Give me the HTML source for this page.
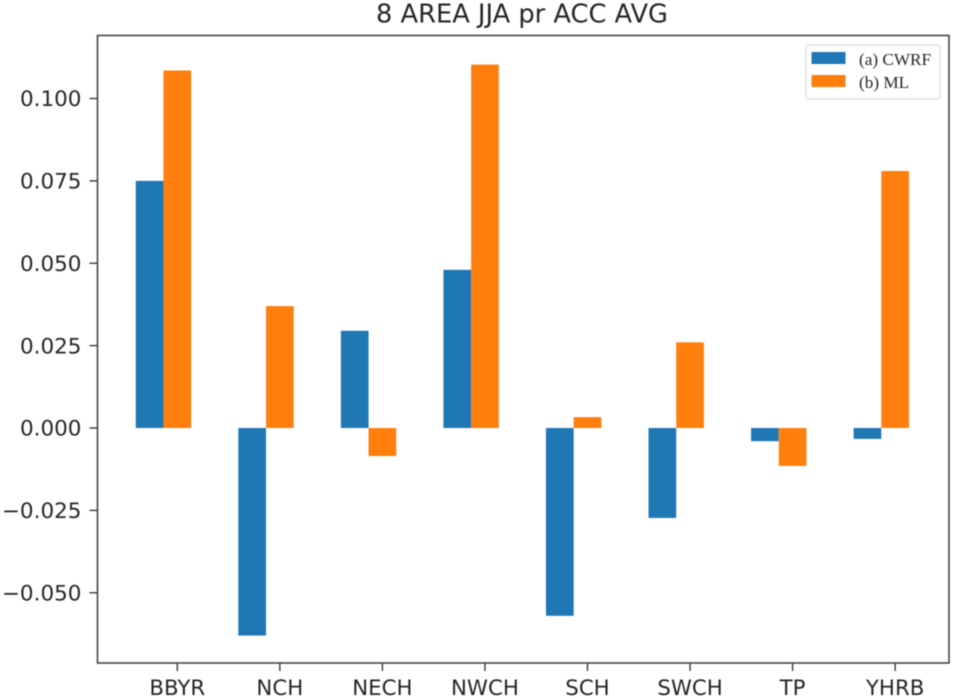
<!DOCTYPE html>
<html lang="en">
<head>
<meta charset="utf-8">
<title>8 AREA JJA pr ACC AVG</title>
<style>
html,body{margin:0;padding:0;background:#fff;width:955px;height:699px;overflow:hidden}
svg{display:block;filter:blur(0.55px)}
text{font-family:"DejaVu Sans","Liberation Sans",sans-serif;fill:#262626}
</style>
</head>
<body>
<svg id="chart" width="955" height="699" viewBox="0 0 955 699" xmlns="http://www.w3.org/2000/svg"></svg>
<script>
const categories = ['BBYR', 'NCH', 'NECH', 'NWCH', 'SCH', 'SWCH', 'TP', 'YHRB'];
const cwrfValues = [0.075, -0.063, 0.0295, 0.048, -0.057, -0.0273, -0.004, -0.0033];
const mlValues = [0.1085, 0.037, -0.0085, 0.1103, 0.0033, 0.026, -0.0115, 0.078];
const yTickValues = [-0.05, -0.025, 0, 0.025, 0.05, 0.075, 0.1];
const yTickLabels = ['\u22120.050', '\u22120.025', '0.000', '0.025', '0.050', '0.075', '0.100'];
const seriesNames = ['(a) CWRF', '(b) ML'];
const chartTitle = '8 AREA JJA pr ACC AVG';

const NS = 'http://www.w3.org/2000/svg';
const svg = document.getElementById('chart');
const plot = {left: 97.5, right: 949, top: 35.5, bottom: 663};
const BLUE = '#1f77b4', ORANGE = '#ff7f0e', AXIS = '#3a3a3a';
const BAR_WIDTH = 0.27;

function xScale(v) { return 177.3 + v * 102.55; }
function yScale(v) { return 428 - v * 3295; }

function make(tag, attrs, parent) {
  const el = document.createElementNS(NS, tag);
  for (const k in attrs) el.setAttribute(k, attrs[k]);
  (parent || svg).appendChild(el);
  return el;
}

function drawBar(i, value, offset, color, name) {
  const x0 = xScale(i + offset - BAR_WIDTH / 2);
  const x1 = xScale(i + offset + BAR_WIDTH / 2);
  const y0 = yScale(0), yv = yScale(value);
  const bar = make('rect', {x: x0, y: Math.min(y0, yv), width: x1 - x0, height: Math.abs(yv - y0), fill: color});
  
  
}

categories.forEach(function (cat, i) {
  drawBar(i, cwrfValues[i], -BAR_WIDTH, BLUE, 'bar-cwrf-' + cat.toLowerCase());
  drawBar(i, mlValues[i], 0, ORANGE, 'bar-ml-' + cat.toLowerCase());
});

const frame = make('rect', {x: plot.left, y: plot.top, width: plot.right - plot.left, height: plot.bottom - plot.top, fill: 'none', stroke: AXIS, 'stroke-width': 1.5});



yTickValues.forEach(function (v, i) {
  const y = yScale(v);
  const tick = make('line', {x1: plot.left - 8, x2: plot.left, y1: y, y2: y, stroke: AXIS, 'stroke-width': 1.4});
  
  
  const label = make('text', {x: plot.left - 16, y: y + 7.7, 'text-anchor': 'end', 'font-size': 21.5});
  
  
  label.textContent = yTickLabels[i];
});

categories.forEach(function (cat, i) {
  const x = xScale(i);
  const tick = make('line', {x1: x, x2: x, y1: plot.bottom, y2: plot.bottom + 8, stroke: AXIS, 'stroke-width': 1.4});
  
  
  const label = make('text', {x: x, y: 695, 'text-anchor': 'middle', 'font-size': 21.3});
  
  
  label.textContent = cat;
});

const title = make('text', {x: 522, y: 22.5, 'text-anchor': 'middle', 'font-size': 25.7});


title.textContent = chartTitle;

const legend = make('g', {});


make('rect', {x: 806, y: 45, width: 134, height: 54, rx: 2, fill: '#fff', stroke: '#dcdcdc', 'stroke-width': 1.3}, legend);
[BLUE, ORANGE].forEach(function (color, i) {
  const y = 52 + i * 23;
  const swatch = make('rect', {x: 811.5, y: y, width: 34, height: 12, fill: color}, legend);
  
  
  const label = make('text', {x: 859, y: y + 13, 'font-size': 17.2, style: 'font-family:"Liberation Serif",serif'}, legend);
  
  
  label.textContent = seriesNames[i];
});
</script>
</body>
</html>
